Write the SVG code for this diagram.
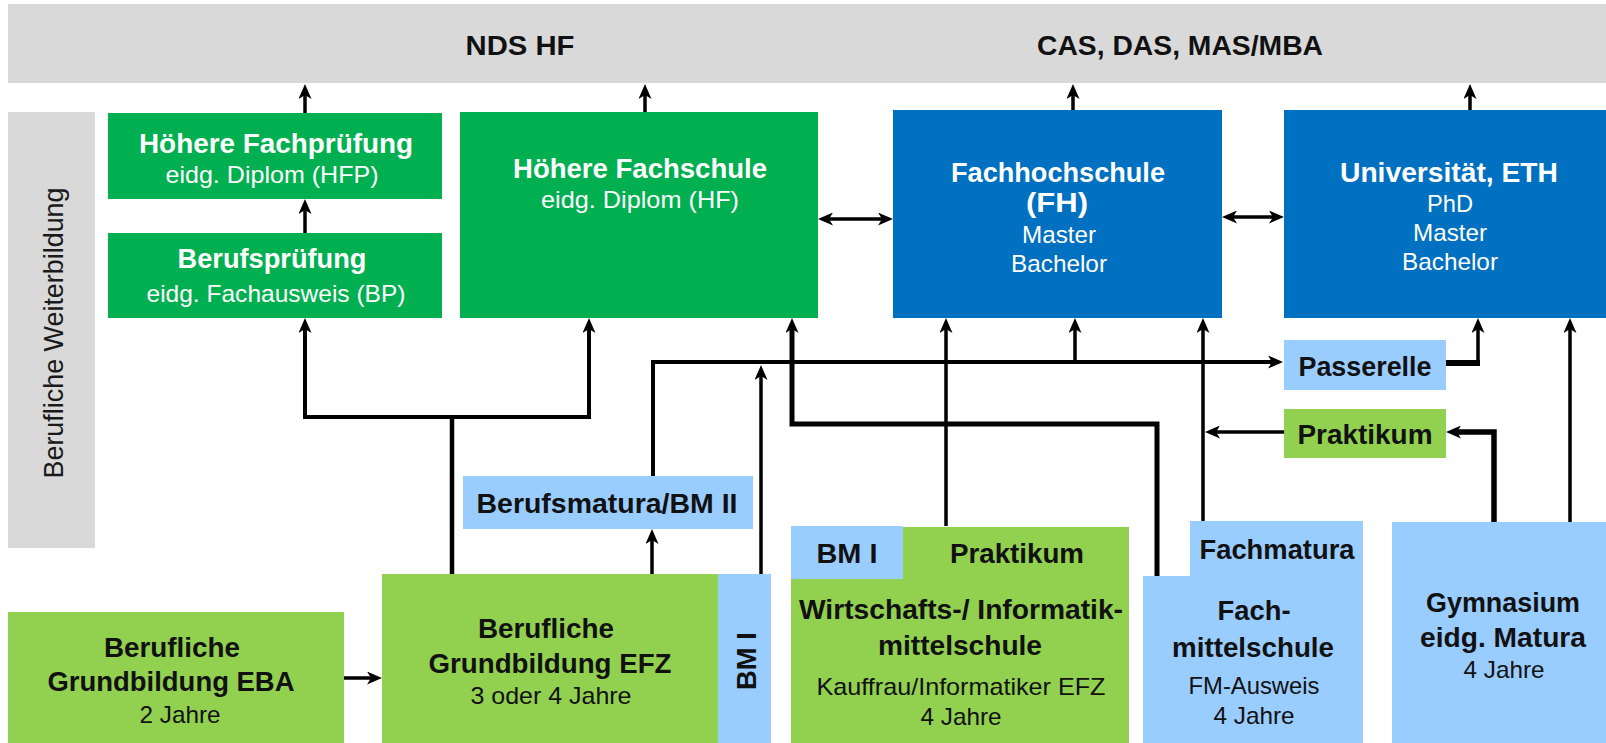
<svg xmlns="http://www.w3.org/2000/svg" width="1606" height="743" viewBox="0 0 1606 743">
<defs>
<style>
.b{font-family:"Liberation Sans",Arial,sans-serif;font-weight:bold;font-size:27.5px;text-anchor:middle}
.r{font-family:"Liberation Sans",Arial,sans-serif;font-size:24px;text-anchor:middle}
.w{fill:#ffffff}.k{fill:#111111}
.dg{fill:#00b050}.lg{fill:#92d050}.bl{fill:#0070c0}.lb{fill:#99ccff}.gr{fill:#d9d9d9}
.c{fill:none;stroke:#000;stroke-width:3.5;stroke-linejoin:miter}
.a{marker-end:url(#ah)}
.a2{marker-start:url(#ah);marker-end:url(#ah)}
</style>
<marker id="ah" markerUnits="userSpaceOnUse" markerWidth="15" markerHeight="13" viewBox="0 0 15 13" refX="5" refY="6.5" orient="auto-start-reverse">
<path d="M0,0 L15,6.5 L0,13 L4,6.5 z" fill="#000"/>
</marker>
</defs>
<rect width="1606" height="743" fill="#ffffff"/>

<g id="topbar">
<rect class="gr" x="8" y="4" width="1598" height="79"/>
<text class="b k" x="520" y="55" textLength="109" lengthAdjust="spacingAndGlyphs">NDS HF</text>
<text class="b k" x="1180" y="55" textLength="286" lengthAdjust="spacingAndGlyphs">CAS, DAS, MAS/MBA</text>
</g>

<g id="sidebar">
<rect class="gr" x="8" y="112" width="87" height="436"/>
<text class="r" x="0" y="0" style="fill:#1a1a1a;font-size:28px" transform="translate(63,333) rotate(-90)" textLength="291" lengthAdjust="spacingAndGlyphs">Berufliche Weiterbildung</text>
</g>

<g id="hfp">
<rect class="dg" x="108" y="113" width="334" height="86"/>
<text class="b w" x="276" y="153" textLength="274" lengthAdjust="spacingAndGlyphs">Höhere Fachprüfung</text>
<text class="r w" x="272" y="183" textLength="213" lengthAdjust="spacingAndGlyphs">eidg. Diplom (HFP)</text>
</g>

<g id="bp">
<rect class="dg" x="108" y="233" width="334" height="85"/>
<text class="b w" x="272" y="268" textLength="189" lengthAdjust="spacingAndGlyphs">Berufsprüfung</text>
<text class="r w" x="276" y="302" textLength="259" lengthAdjust="spacingAndGlyphs">eidg. Fachausweis (BP)</text>
</g>

<g id="hf">
<rect class="dg" x="460" y="112" width="358" height="206"/>
<text class="b w" x="640" y="178" textLength="254" lengthAdjust="spacingAndGlyphs">Höhere Fachschule</text>
<text class="r w" x="640" y="208" textLength="198" lengthAdjust="spacingAndGlyphs">eidg. Diplom (HF)</text>
</g>

<g id="fh">
<rect class="bl" x="893" y="110" width="329" height="208"/>
<text class="b w" x="1058" y="182" textLength="214" lengthAdjust="spacingAndGlyphs">Fachhochschule</text>
<text class="b w" x="1057" y="212" textLength="62" lengthAdjust="spacingAndGlyphs">(FH)</text>
<text class="r w" x="1059" y="243" textLength="74" lengthAdjust="spacingAndGlyphs">Master</text>
<text class="r w" x="1059" y="272" textLength="96" lengthAdjust="spacingAndGlyphs">Bachelor</text>
</g>

<g id="uni">
<rect class="bl" x="1284" y="110" width="322" height="208"/>
<text class="b w" x="1449" y="182" textLength="218" lengthAdjust="spacingAndGlyphs">Universität, ETH</text>
<text class="r w" x="1450" y="212" textLength="46" lengthAdjust="spacingAndGlyphs">PhD</text>
<text class="r w" x="1450" y="241" textLength="74" lengthAdjust="spacingAndGlyphs">Master</text>
<text class="r w" x="1450" y="270" textLength="96" lengthAdjust="spacingAndGlyphs">Bachelor</text>
</g>

<g id="passerelle">
<rect class="lb" x="1284" y="340" width="162" height="50"/>
<text class="b k" x="1365" y="376" textLength="133" lengthAdjust="spacingAndGlyphs">Passerelle</text>
</g>

<g id="praktikum">
<rect class="lg" x="1284" y="409" width="162" height="49"/>
<text class="b k" x="1365" y="444" textLength="135" lengthAdjust="spacingAndGlyphs">Praktikum</text>
</g>

<g id="berufsmatura">
<rect class="lb" x="463" y="476" width="290" height="53"/>
<text class="b k" x="607" y="513" textLength="261" lengthAdjust="spacingAndGlyphs">Berufsmatura/BM II</text>
</g>

<g id="eba">
<rect class="lg" x="8" y="612" width="336" height="131"/>
<text class="b k" x="172" y="657" textLength="136" lengthAdjust="spacingAndGlyphs">Berufliche</text>
<text class="b k" x="171" y="691" textLength="247" lengthAdjust="spacingAndGlyphs">Grundbildung EBA</text>
<text class="r k" x="180" y="723" textLength="81" lengthAdjust="spacingAndGlyphs">2 Jahre</text>
</g>

<g id="efz">
<rect class="lg" x="382" y="574" width="336" height="169"/>
<rect class="lb" x="718" y="574" width="53" height="169"/>
<text class="b k" x="546" y="638" textLength="136" lengthAdjust="spacingAndGlyphs">Berufliche</text>
<text class="b k" x="550" y="673" textLength="243" lengthAdjust="spacingAndGlyphs">Grundbildung EFZ</text>
<text class="r k" x="551" y="704" textLength="161" lengthAdjust="spacingAndGlyphs">3 oder 4 Jahre</text>
<text class="b k" x="0" y="0" transform="translate(756,661) rotate(-90)" textLength="58" lengthAdjust="spacingAndGlyphs">BM I</text>
</g>

<g id="wms">
<rect class="lg" x="791" y="527" width="338" height="216"/>
<rect class="lb" x="791" y="526" width="112" height="53"/>
<text class="b k" x="847" y="563" textLength="61" lengthAdjust="spacingAndGlyphs">BM I</text>
<text class="b k" x="1017" y="563" textLength="134" lengthAdjust="spacingAndGlyphs">Praktikum</text>
<text class="b k" x="961" y="619" textLength="324" lengthAdjust="spacingAndGlyphs">Wirtschafts-/ Informatik-</text>
<text class="b k" x="960" y="655" textLength="164" lengthAdjust="spacingAndGlyphs">mittelschule</text>
<text class="r k" x="961" y="695" textLength="289" lengthAdjust="spacingAndGlyphs">Kauffrau/Informatiker EFZ</text>
<text class="r k" x="961" y="725" textLength="81" lengthAdjust="spacingAndGlyphs">4 Jahre</text>
</g>

<g id="fms">
<path class="lb" d="M1190,521 H1363 V743 H1143 V576 H1190 Z"/>
<text class="b k" x="1277" y="559" textLength="155" lengthAdjust="spacingAndGlyphs">Fachmatura</text>
<text class="b k" x="1254" y="620" textLength="73" lengthAdjust="spacingAndGlyphs">Fach-</text>
<text class="b k" x="1253" y="657" textLength="162" lengthAdjust="spacingAndGlyphs">mittelschule</text>
<text class="r k" x="1254" y="694" textLength="131" lengthAdjust="spacingAndGlyphs">FM-Ausweis</text>
<text class="r k" x="1254" y="724" textLength="81" lengthAdjust="spacingAndGlyphs">4 Jahre</text>
</g>

<g id="gym">
<rect class="lb" x="1392" y="522" width="214" height="221"/>
<text class="b k" x="1503" y="612" textLength="154" lengthAdjust="spacingAndGlyphs">Gymnasium</text>
<text class="b k" x="1503" y="647" textLength="166" lengthAdjust="spacingAndGlyphs">eidg. Matura</text>
<text class="r k" x="1504" y="678" textLength="81" lengthAdjust="spacingAndGlyphs">4 Jahre</text>
</g>

<g id="connectors">
<path class="c a" d="M305,233 V209"/>
<path class="c a" d="M305,113 V94"/>
<path class="c a" d="M645,112 V94"/>
<path class="c a" d="M1073,110 V94"/>
<path class="c a" d="M1470,110 V94"/>
<path class="c a2" d="M828,219 H883"/>
<path class="c a2" d="M1232,217 H1274"/>
<path class="c a" d="M344,678 H372"/>
<path class="c" style="stroke-width:4.5" d="M452,574 V417"/>
<path class="c a2" style="stroke-width:4" d="M305,328 V417 H589 V328"/>
<path class="c a" d="M652,574 V539"/>
<path class="c a" style="stroke-width:4" d="M653,476 V362 H1273"/>
<path class="c a" d="M1075,362 V328"/>
<path class="c a" d="M761,574 V375"/>
<path class="c a" style="stroke-width:5" d="M1157,576 V424 H792 V328"/>
<path class="c a" d="M946,526 V328"/>
<path class="c a" d="M1203,521 V328"/>
<path class="c a" d="M1284,432 H1215"/>
<path class="c" style="stroke-width:6" d="M1446,363 H1480"/>
<path class="c a" d="M1478,366 V328"/>
<path class="c a" style="stroke-width:5.5" d="M1494,522 V432 H1456"/>
<path class="c a" d="M1570,522 V328"/>
</g>
</svg>
